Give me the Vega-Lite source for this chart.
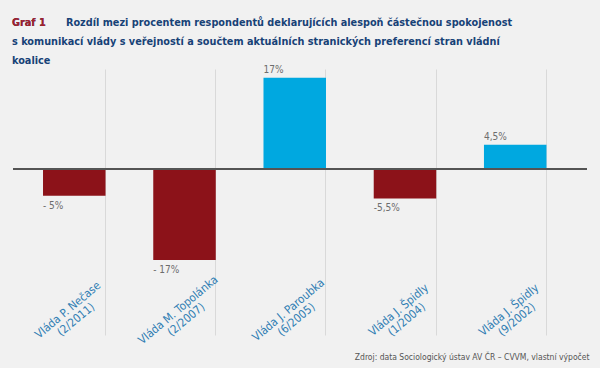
{
  "$schema": "https://vega.github.io/schema/vega-lite/v6.json",
  "autosize": {"type": "none"},
  "width": 574,
  "height": 266,
  "padding": {"left": 13, "top": 69, "right": 13, "bottom": 33},
  "background": "#f1f1f1",
  "config": {"view": {"stroke": null}, "font": "'Liberation Sans Narrow', 'DejaVu Sans Condensed', sans-serif"},
  "title": {
    "text": ["Graf 1\u00a0\u00a0\u00a0\u00a0\u00a0\u00a0Rozdíl mezi procentem respondentů deklarujících alespoň částečnou spokojenost", "s komunikací vlády s veřejností a součtem aktuálních stranických preferencí stran vládní", "koalice"],
    "subtitle": "Graf 1",
    "anchor": "start",
    "frame": "group",
    "dx": -1,
    "offset": -1,
    "font": "'Liberation Sans Narrow', 'DejaVu Sans Condensed', sans-serif",
    "fontSize": 10.8,
    "fontWeight": "bold",
    "color": "#174277",
    "lineHeight": 19,
    "subtitleFont": "'Liberation Sans Narrow', 'DejaVu Sans Condensed', sans-serif",
    "subtitleFontSize": 10.8,
    "subtitleFontWeight": "bold",
    "subtitleColor": "#a3212b",
    "subtitlePadding": -48.8
  },
  "data": {
    "values": [
      {"vlada": "Vláda P. Nečase (2/2011)", "value": -5, "label": "- 5%"},
      {"vlada": "Vláda M. Topolánka (2/2007)", "value": -17, "label": "- 17%"},
      {"vlada": "Vláda J. Paroubka (6/2005)", "value": 17, "label": "17%"},
      {"vlada": "Vláda J. Špidly (1/2004)", "value": -5.5, "label": "-5,5%"},
      {"vlada": "Vláda J. Špidly (9/2002)", "value": 4.5, "label": "4,5%"}
    ]
  },
  "encoding": {
    "x": {
      "field": "vlada",
      "type": "nominal",
      "sort": null,
      "scale": {"paddingInner": 0.433, "paddingOuter": 0.32, "align": 0.4255},
      "axis": {
        "orient": "bottom",
        "title": "Zdroj: data Sociologický ústav AV ČR – CVVM, vlastní výpočet",
        "domain": false,
        "ticks": false,
        "tickSize": 0,
        "grid": true,
        "gridColor": "#d9d9d9",
        "gridWidth": 1,
        "bandPosition": 1,
        "labelAngle": -40,
        "labelAlign": "center",
        "labelBaseline": "middle",
        "labelPadding": -25,
        "labelOffset": -6,
        "labelFontSize": 11.5,
        "labelColor": "#2f7db3",
        "labelLineHeight": 12.5,
        "labelOverlap": false,
        "labelBound": false,
        "labelExpr": "[slice(datum.value, 0, indexof(datum.value, ' (')), slice(datum.value, indexof(datum.value, ' (') + 1)]",
        "titleAnchor": "end",
        "titleAlign": "right",
        "titleBaseline": "alphabetic",
        "titleX": 576,
        "titleY": 24,
        "titleFontSize": 8.5,
        "titleFontWeight": "normal",
        "titleColor": "#555555"
      }
    }
  },
  "layer": [
    {
      "mark": {"type": "bar"},
      "encoding": {
        "y": {"field": "value", "type": "quantitative", "scale": {"domain": [-31, 18.65], "nice": false}, "axis": null},
        "color": {"condition": {"test": "datum.value < 0", "value": "#8c1219"}, "value": "#00a8e0"}
      }
    },
    {
      "mark": {"type": "rule", "color": "#555555", "strokeWidth": 1.5},
      "encoding": {"y": {"datum": 0, "type": "quantitative"}, "x": null}
    },
    {
      "transform": [{"filter": "datum.value >= 0"}],
      "mark": {"type": "text", "align": "left", "baseline": "alphabetic", "dy": -5, "fontSize": 10, "color": "#6d6d6d"},
      "encoding": {
        "x": {"field": "vlada", "type": "nominal", "sort": null, "bandPosition": 0},
        "y": {"field": "value", "type": "quantitative"},
        "text": {"field": "label"}
      }
    },
    {
      "transform": [{"filter": "datum.value < 0"}],
      "mark": {"type": "text", "align": "left", "baseline": "alphabetic", "dy": 13, "fontSize": 10, "color": "#6d6d6d"},
      "encoding": {
        "x": {"field": "vlada", "type": "nominal", "sort": null, "bandPosition": 0},
        "y": {"field": "value", "type": "quantitative"},
        "text": {"field": "label"}
      }
    }
  ]
}
